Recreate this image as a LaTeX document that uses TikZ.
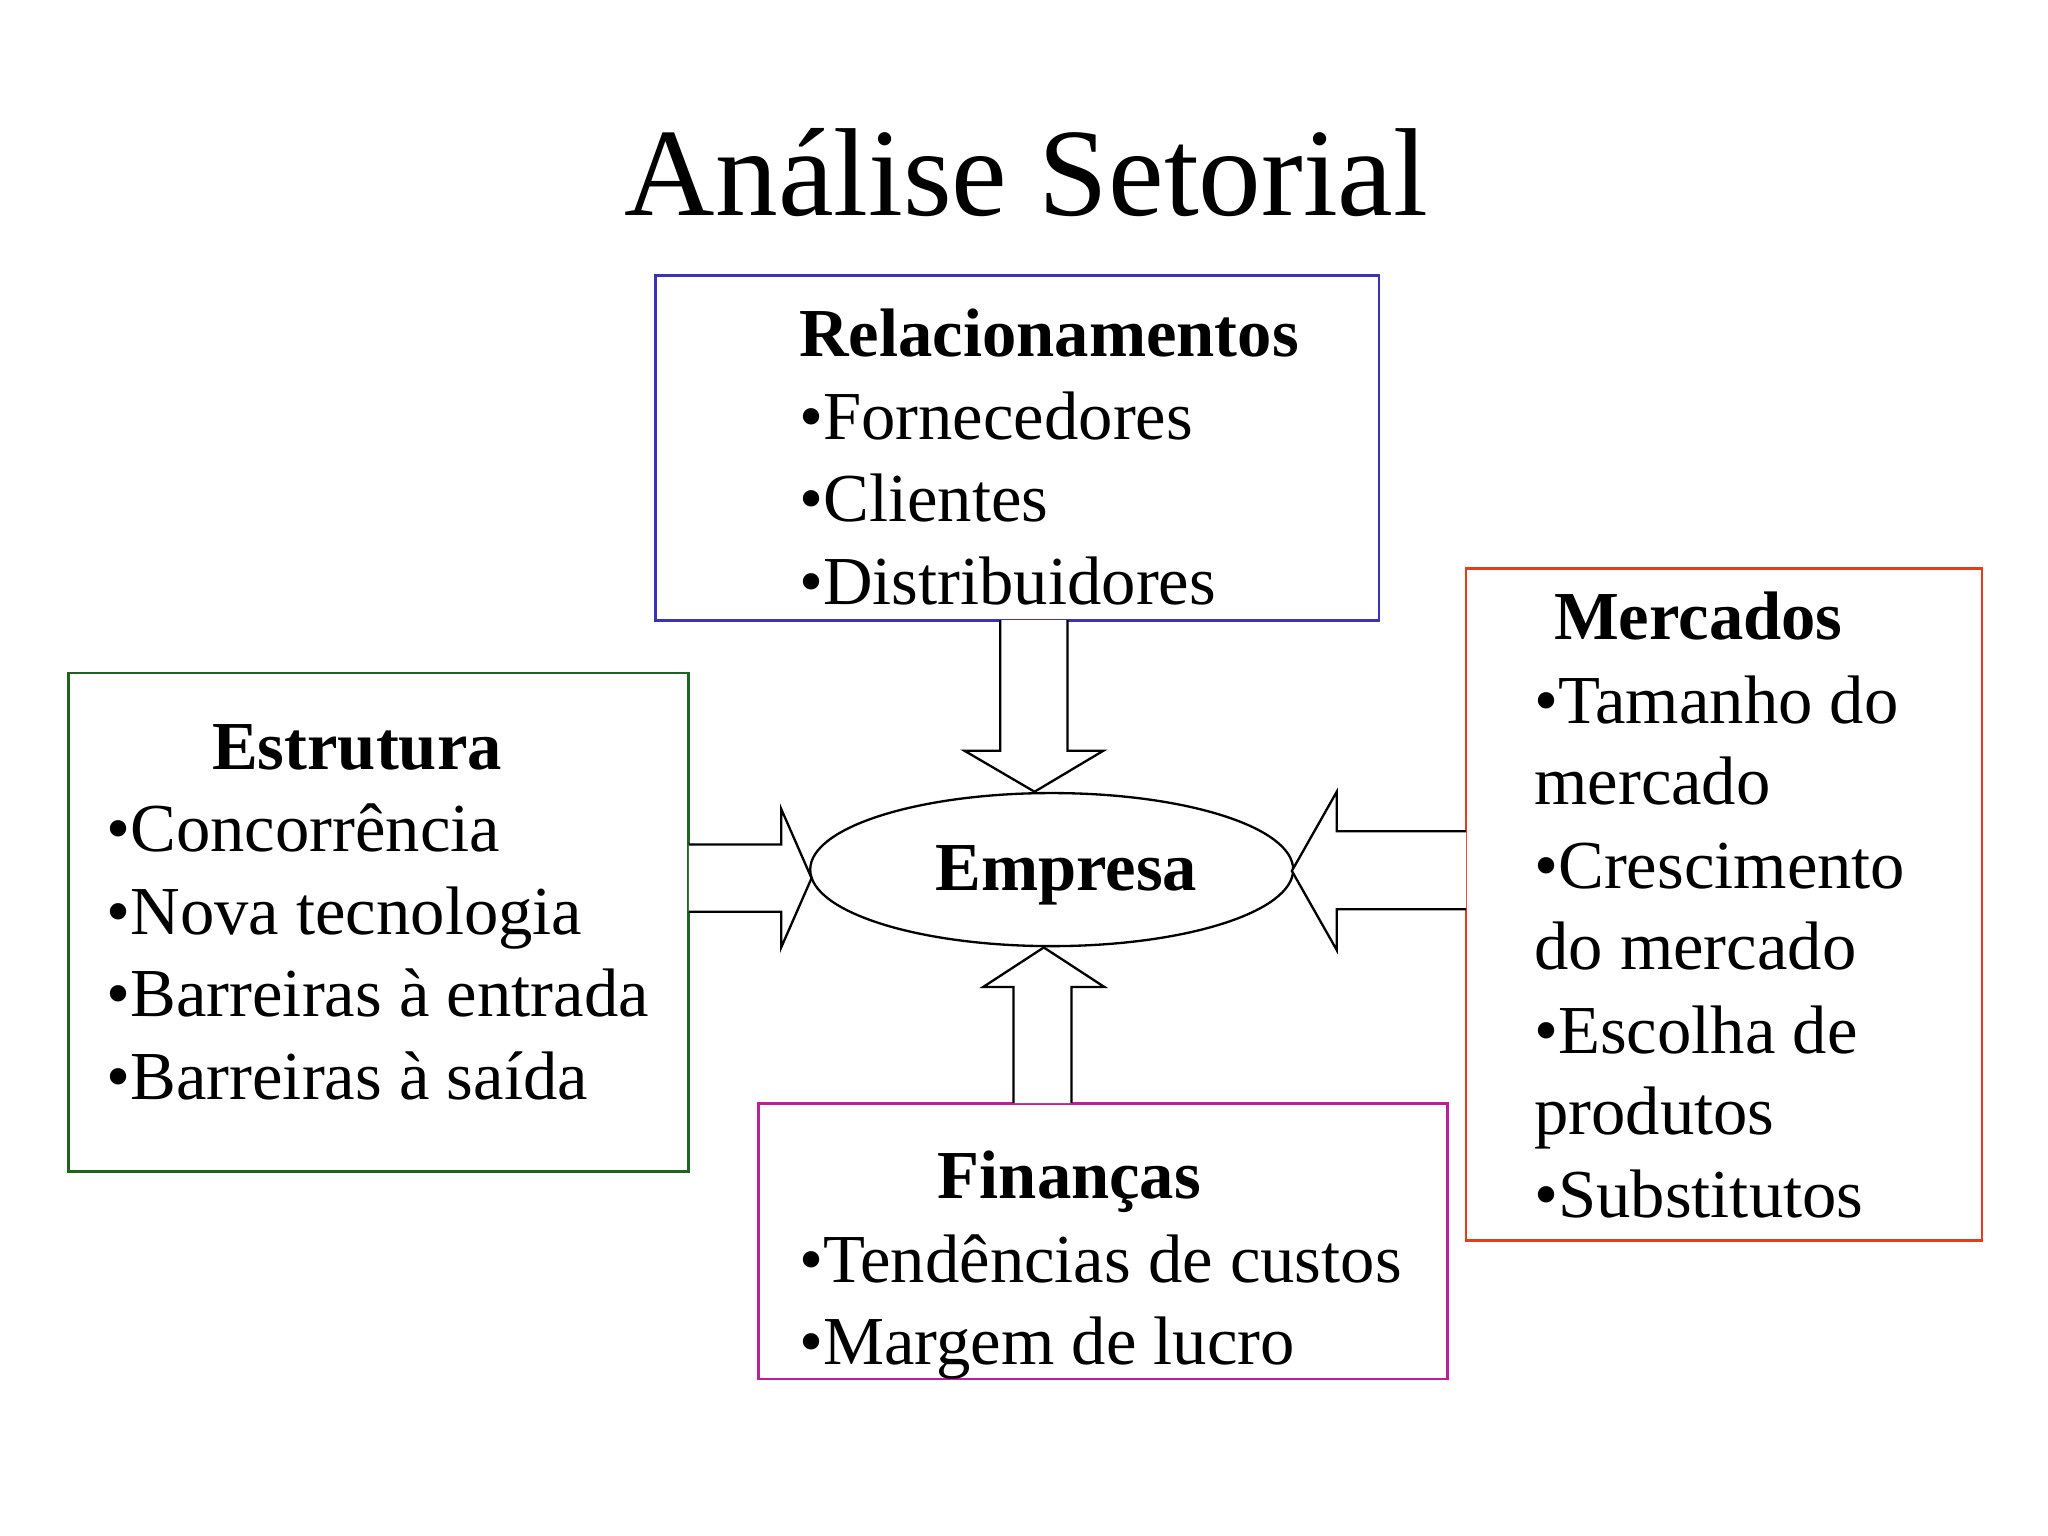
\documentclass[tikz,border=0pt]{standalone}
\usepackage{fontspec}
\setmainfont{Liberation Serif}
\usetikzlibrary{shapes.geometric}
\begin{document}
\begin{tikzpicture}[x=1cm,y=-1cm,
  box/.style={draw,line width=0.6pt},
  txt/.style={anchor=base west,inner sep=0pt,font=\fontsize{14.8}{17}\selectfont},
  hd/.style={txt,font=\fontsize{14.8}{17}\selectfont\bfseries},
  blk/.style={draw,fill=white,line width=0.5pt}]
\useasboundingbox (0,0) rectangle (15.52,11.64);
\definecolor{cblue}{RGB}{60,50,180}
\definecolor{cgreen}{RGB}{30,100,30}
\definecolor{cred}{RGB}{230,60,30}
\definecolor{cmag}{RGB}{190,30,150}
\node[anchor=base,inner sep=0pt,font=\fontsize{27}{32}\selectfont] (title) at (7.78,1.63) {Análise Setorial};
% boxes
\draw[box,cblue] (4.97,2.09) rectangle (10.45,4.70);
\draw[box,cgreen] (0.52,5.10) rectangle (5.22,8.88);
\draw[box,cred] (11.11,4.31) rectangle (15.02,9.40);
\draw[box,cmag] (5.75,8.36) rectangle (10.97,10.45);
% ellipse
\node[draw,ellipse,minimum width=3.66cm,minimum height=1.16cm,inner sep=0pt,line width=0.5pt] (emp) at (7.97,6.59) {};
\node[hd,anchor=base] (emptxt) at (8.08,6.75) {Empresa};
% block arrows
\draw[blk] (7.58,4.70) -- (7.58,5.69) -- (7.31,5.69) -- (7.84,6.00) -- (8.36,5.69) -- (8.09,5.69) -- (8.09,4.70);
\draw[blk] (5.22,6.40) -- (5.92,6.40) -- (5.92,6.13) -- (6.15,6.655) -- (5.92,7.18) -- (5.92,6.91) -- (5.22,6.91);
\draw[blk] (11.11,6.30) -- (10.13,6.30) -- (10.13,6.00) -- (9.79,6.60) -- (10.13,7.20) -- (10.13,6.89) -- (11.11,6.89);
\draw[blk] (7.68,8.36) -- (7.68,7.48) -- (7.45,7.48) -- (7.91,7.18) -- (8.37,7.48) -- (8.12,7.48) -- (8.12,8.36);
% texts
\node[hd] (r0) at (6.05,2.70) {Relacionamentos};
\node[txt] (r1) at (6.05,3.33) {•Fornecedores};
\node[txt] (r2) at (6.05,3.95) {•Clientes};
\node[txt] (r3) at (6.05,4.58) {•Distribuidores};
\node[hd] (e0) at (1.60,5.83) {Estrutura};
\node[txt] (e1) at (0.80,6.45) {•Concorrência};
\node[txt] (e2) at (0.80,7.08) {•Nova tecnologia};
\node[txt] (e3) at (0.80,7.70) {•Barreiras à entrada};
\node[txt] (e4) at (0.80,8.33) {•Barreiras à saída};
\node[hd] (m0) at (11.77,4.85) {Mercados};
\node[txt] (m1) at (11.62,5.48) {•Tamanho do};
\node[txt] (m2) at (11.62,6.10) {mercado};
\node[txt] (m3) at (11.62,6.73) {•Crescimento};
\node[txt] (m4) at (11.62,7.35) {do mercado};
\node[txt] (m5) at (11.62,7.98) {•Escolha de};
\node[txt] (m6) at (11.62,8.60) {produtos};
\node[txt] (m7) at (11.62,9.23) {•Substitutos};
\node[hd] (f0) at (7.10,9.08) {Finanças};
\node[txt] (f1) at (6.05,9.72) {•Tendências de custos};
\node[txt] (f2) at (6.05,10.34) {•Margem de lucro};
\end{tikzpicture}
\end{document}
